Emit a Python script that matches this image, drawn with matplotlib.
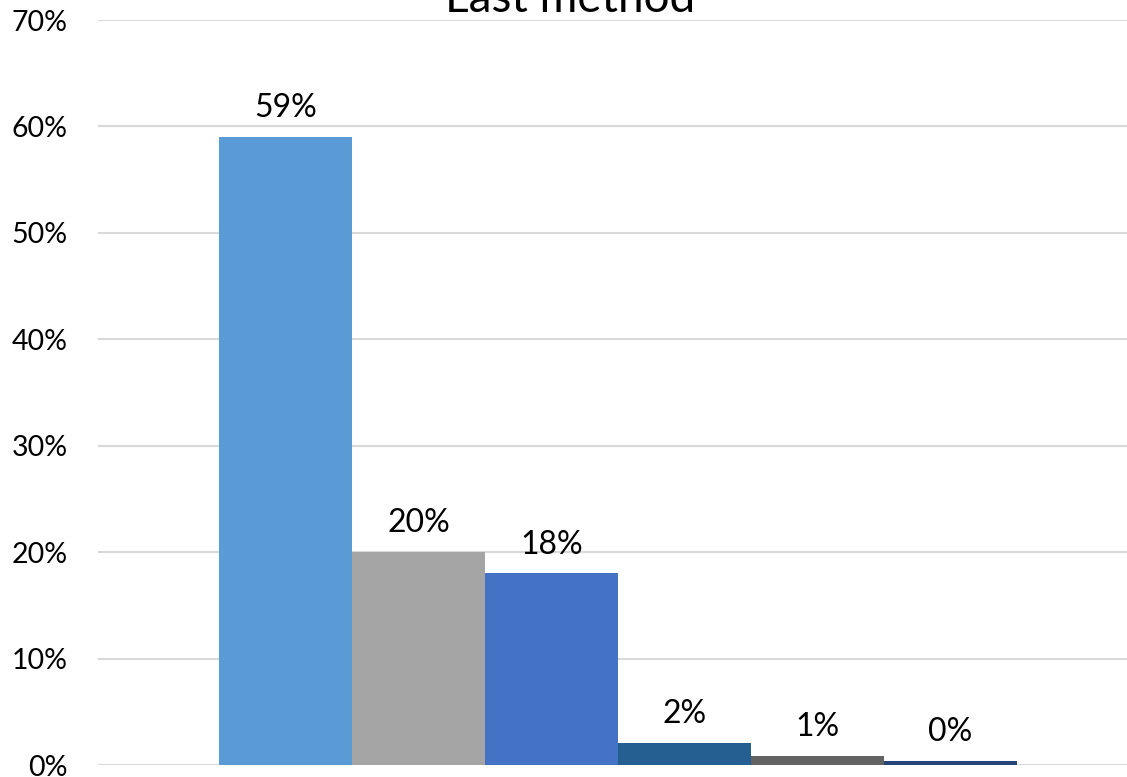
import matplotlib.pyplot as plt

# Data
series = ['A', 'B', 'C', 'D', 'E', 'F']
values = [0.59, 0.20, 0.18, 0.021, 0.0085, 0.0038]
labels = ['59%', '20%', '18%', '2%', '1%', '0%']
colors = ['#5B9BD5', '#A5A5A5', '#4472C4', '#255E91', '#636363', '#264478']
yticks = [0, 0.1, 0.2, 0.3, 0.4, 0.5, 0.6, 0.7]

plt.rcParams['font.family'] = ['Lato', 'DejaVu Sans']

fig = plt.figure(figsize=(11.27, 7.77), dpi=100)
ax = fig.add_axes([98 / 1127, 12 / 777, 1040 / 1127, 745 / 777])

x = list(range(len(values)))
ax.bar(x, values, width=1.0, color=colors, zorder=3)

for xi, v, lab in zip(x, values, labels):
    ax.annotate(lab, (xi, v), xytext=(0, 10), textcoords='offset points',
                ha='center', va='bottom', fontsize=23, color='#000000')

ax.set_xlim(2.5 - 3.91, 2.5 + 3.91)
ax.set_ylim(0, 0.7)
ax.set_yticks(yticks)
ax.set_yticklabels([f'{int(round(t * 100))}%' for t in yticks], fontsize=20.5)
ax.set_xticks([])
ax.tick_params(axis='y', length=0, pad=22)
ax.grid(axis='y', color='#D9D9D9', linewidth=1.5, zorder=0)
for s in ax.spines.values():
    s.set_visible(False)

fig.text(570 / 1127, 1 - 12 / 777, 'Last method', ha='center', va='baseline',
         fontsize=33, color='#000000')

fig.savefig('out.png', dpi=100)
